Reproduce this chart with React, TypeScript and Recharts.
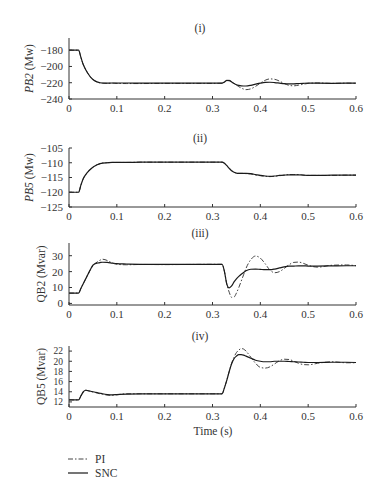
import { LineChart, Line, XAxis, YAxis } from 'recharts';

// time grid (s), denser around the two disturbances
const time = [
  0, 0.01, 0.02, 0.025, 0.03, 0.035, 0.04, 0.045, 0.05, 0.055, 0.06, 0.065, 0.07, 0.08, 0.09, 0.1,
  0.12, 0.15, 0.2, 0.25, 0.3, 0.32, 0.325, 0.33, 0.335, 0.34, 0.345, 0.35, 0.355, 0.36, 0.365, 0.37,
  0.38, 0.39, 0.4, 0.41, 0.42, 0.43, 0.44, 0.45, 0.46, 0.47, 0.48, 0.49, 0.5, 0.52, 0.55, 0.58, 0.6,
];

// (i) PB2
const pb2Snc = [
  -180, -180, -180, -189, -198, -204, -209, -213, -216, -218, -219.3, -220, -220.3, -220.5, -220.3, -220.4,
  -220.3, -220.5, -220.5, -220.5, -220.5, -220.4, -219, -217, -217.3, -219, -221, -222.5, -223.3, -223.8, -224, -224,
  -223.2, -221.8, -220.5, -219.6, -219.4, -219.8, -220.5, -221.2, -221.5, -221.4, -221, -220.7, -220.5, -220.6, -220.7, -220.6, -220.6,
];
const pb2Pi = [
  -180, -180, -180, -189, -198, -204, -209, -213, -216, -218, -219.5, -220.3, -220.6, -220.8, -220.5, -220.8,
  -221, -221, -220.8, -220.8, -220.8, -220.6, -219.3, -217.5, -217, -218.5, -220.5, -222.8, -224.8, -226.5, -227.8, -228.5,
  -227.5, -224.5, -220.5, -217, -215.3, -215.8, -218, -221, -223.2, -223.8, -223, -221.8, -220.8, -220.3, -220.8, -220.5, -220.7,
];

// (ii) PB5
const pb5Snc = [
  -120, -120, -120, -117.5, -115.3, -114, -113, -112.2, -111.5, -111, -110.6, -110.3, -110.1, -110, -109.9, -109.9,
  -109.9, -109.8, -109.8, -109.8, -109.8, -109.8, -110.2, -111, -111.9, -112.7, -113.2, -113.5, -113.6, -113.6, -113.6, -113.6,
  -113.7, -114, -114.3, -114.5, -114.6, -114.5, -114.3, -114.2, -114.1, -114.1, -114.1, -114.2, -114.3, -114.3, -114.2, -114.2, -114.2,
];
const pb5Pi = [
  -120, -120, -120, -117.5, -115.3, -114, -113, -112.2, -111.5, -111, -110.6, -110.3, -110.1, -110, -109.9, -109.9,
  -109.9, -109.8, -109.8, -109.8, -109.8, -109.8, -110.2, -111, -111.9, -112.7, -113.2, -113.5, -113.6, -113.6, -113.6, -113.7,
  -113.8, -114.1, -114.4, -114.6, -114.7, -114.6, -114.4, -114.2, -114, -114, -114, -114.2, -114.3, -114.3, -114.3, -114.2, -114.2,
];

// (iii) QB2
const qb2Snc = [
  6.5, 6.5, 6.5, 9.5, 12.5, 15.5, 18.5, 21.5, 24, 25, 25.4, 25.7, 25.9, 25.8, 25.4, 25,
  24.8, 24.6, 24.5, 24.6, 24.6, 24.6, 20, 12, 9.8, 11, 13.5, 15.5, 17, 18.3, 19.5, 20.5,
  21.5, 21.6, 21.4, 21.2, 21.2, 21.6, 22.3, 23, 23.4, 23.5, 23.6, 23.6, 23.5, 23.5, 23.6, 23.7, 23.7,
];
const qb2Pi = [
  6.5, 6.5, 6.5, 9.5, 12.5, 15.5, 18.5, 21.3, 23.8, 25.2, 26.3, 27.2, 27.8, 27, 25.5, 24.6,
  24.3, 24.5, 24.4, 24.5, 24.6, 24.6, 20, 12, 7, 3.8, 4, 6.5, 10, 14, 18, 22,
  27.5, 29.8, 28.5, 25, 21, 19.3, 20, 22, 24.3, 25.8, 26, 25.2, 24, 22.8, 24, 24.2, 23.7,
];

// (iv) QB5
const qb5Snc = [
  12.4, 12.4, 12.4, 13.2, 14, 14.3, 14.2, 14.1, 14, 13.9, 13.8, 13.7, 13.6, 13.45, 13.4, 13.45,
  13.55, 13.6, 13.6, 13.6, 13.6, 13.6, 14.8, 16.3, 18, 19.5, 20.5, 21, 21.3, 21.3, 21.2, 21,
  20.6, 20.2, 20, 19.9, 19.9, 20, 20, 20, 19.95, 19.9, 19.85, 19.8, 19.75, 19.75, 19.8, 19.8, 19.75,
];
const qb5Pi = [
  12.4, 12.4, 12.4, 13.2, 14, 14.3, 14.2, 14.05, 13.95, 13.85, 13.7, 13.6, 13.5, 13.35, 13.3, 13.4,
  13.6, 13.6, 13.6, 13.6, 13.6, 13.6, 14.8, 16.3, 18, 19.6, 20.8, 21.7, 22.2, 22.5, 22.4, 22,
  20.8, 19.6, 18.8, 18.65, 18.9, 19.5, 20.1, 20.4, 20.35, 20, 19.6, 19.35, 19.3, 19.6, 19.9, 19.7, 19.7,
];

const timeTicks = [0, 0.1, 0.2, 0.3, 0.4, 0.5, 0.6];
const pb2Ticks = [-240, -220, -200, -180];
const pb5Ticks = [-125, -120, -115, -110, -105];
const qb2Ticks = [0, 10, 20, 30];
const qb5Ticks = [12, 14, 16, 18, 20, 22];

const FONT = '"Liberation Serif", "Times New Roman", "DejaVu Serif", serif';
const INK = '#333';
const PI_DASH = '5 2 1.5 2';

function AxisTitle(props: any) {
  const { viewBox, main, unit, italic, cx } = props;
  const cy = viewBox.y + viewBox.height / 2;
  return (
    <text
      x={cx}
      y={cy}
      transform={`rotate(-90 ${cx} ${cy})`}
      textAnchor="middle"
      dominantBaseline="central"
      fontFamily={FONT}
      fontSize={11.5}
      fill={INK}
    >
      <tspan fontStyle={italic ? 'italic' : 'normal'}>{main}</tspan>
      <tspan> {unit}</tspan>
    </text>
  );
}

function Panel(props: any) {
  const { top, plotH, title, main, unit, italic, labelX, pi, snc, domain, ticks, yFont = 11 } = props;
  const data = time.map((t, i) => ({ t, pi: pi[i], snc: snc[i] }));
  const xTickStyle = { fontFamily: FONT, fontSize: 11, fill: INK };
  const yTickStyle = { fontFamily: FONT, fontSize: yFont, fill: INK };
  return (
    <>
      <div
        style={{
          position: 'absolute', left: 150, width: 100, top: top - 16, textAlign: 'center',
          fontFamily: FONT, fontSize: 11.5, color: INK,
        }}
      >
        {title}
      </div>
      <div style={{ position: 'absolute', left: 0, top: top - 8 }}>
        <LineChart width={386} height={plotH + 30} data={data} margin={{ top: 8, right: 30, bottom: 0, left: 0 }}>
          <XAxis
            dataKey="t" type="number" domain={[0, 0.6]} ticks={timeTicks} interval={0}
            tickSize={-3} tickMargin={8} height={22} stroke={INK} tick={xTickStyle}
            tickFormatter={(v: number) => String(v)}
          />
          <XAxis
            xAxisId="top" orientation="top" dataKey="t" type="number" domain={[0, 0.6]} ticks={timeTicks}
            interval={0} tickSize={-3} height={0} stroke={INK} tick={false}
          />
          <YAxis
            type="number" domain={domain} ticks={ticks} allowDataOverflow interval={0}
            tickSize={-3} tickMargin={9} width={69} stroke={INK} tick={yTickStyle}
            tickFormatter={(v: number) => (v < 0 ? '\u2212' + Math.abs(v) : String(v))}
            label={<AxisTitle main={main} unit={unit} italic={italic} cx={labelX} />}
          />
          <YAxis
            yAxisId="right" orientation="right" type="number" domain={domain} ticks={ticks}
            interval={0} tickSize={-3} width={0} stroke={INK} tick={false}
          />
          <Line
            dataKey="pi" type="monotone" stroke="#444" strokeWidth={1} strokeDasharray={PI_DASH}
            dot={false} isAnimationActive={false}
          />
          <Line
            dataKey="snc" type="monotone" stroke="#1a1a1a" strokeWidth={1.2}
            dot={false} isAnimationActive={false}
          />
        </LineChart>
      </div>
    </>
  );
}

export default function App() {
  return (
    <div style={{ position: 'absolute', left: 0, top: 0, width: 386, height: 500, background: '#fff' }}>
      <Panel top={38} plotH={61} title="(i)" main="PB2" unit="(Mw)" italic labelX={29} pi={pb2Pi} snc={pb2Snc} domain={[-240, -165]} ticks={pb2Ticks} />
      <Panel top={148} plotH={59} title="(ii)" main="PB5" unit="(Mw)" italic labelX={29} pi={pb5Pi} snc={pb5Snc} domain={[-125, -105]} ticks={pb5Ticks} />
      <Panel top={243} plotH={62} title="(iii)" main="QB2" unit="(Mvar)" labelX={41} pi={qb2Pi} snc={qb2Snc} domain={[-1, 38]} ticks={qb2Ticks} />
      <Panel top={346} plotH={61} title="(iv)" main="QB5" unit="(Mvar)" labelX={41} pi={qb5Pi} snc={qb5Snc} domain={[11, 23]} ticks={qb5Ticks} yFont={9.5} />
      <div
        style={{
          position: 'absolute', left: 150, width: 126, top: 425, textAlign: 'center',
          fontFamily: FONT, fontSize: 11.5, color: INK,
        }}
      >
        Time (s)
      </div>
      <svg style={{ position: 'absolute', left: 0, top: 450 }} width={386} height={30}>
        <line x1={68} x2={88} y1={9} y2={9} stroke="#444" strokeWidth={1} strokeDasharray={PI_DASH} />
        <text x={95} y={9} dominantBaseline="central" fontFamily={FONT} fontSize={11.5} fill={INK}>PI</text>
        <line x1={68} x2={88} y1={23} y2={23} stroke="#1a1a1a" strokeWidth={1.2} />
        <text x={95} y={23} dominantBaseline="central" fontFamily={FONT} fontSize={11.5} fill={INK}>SNC</text>
      </svg>
    </div>
  );
}
